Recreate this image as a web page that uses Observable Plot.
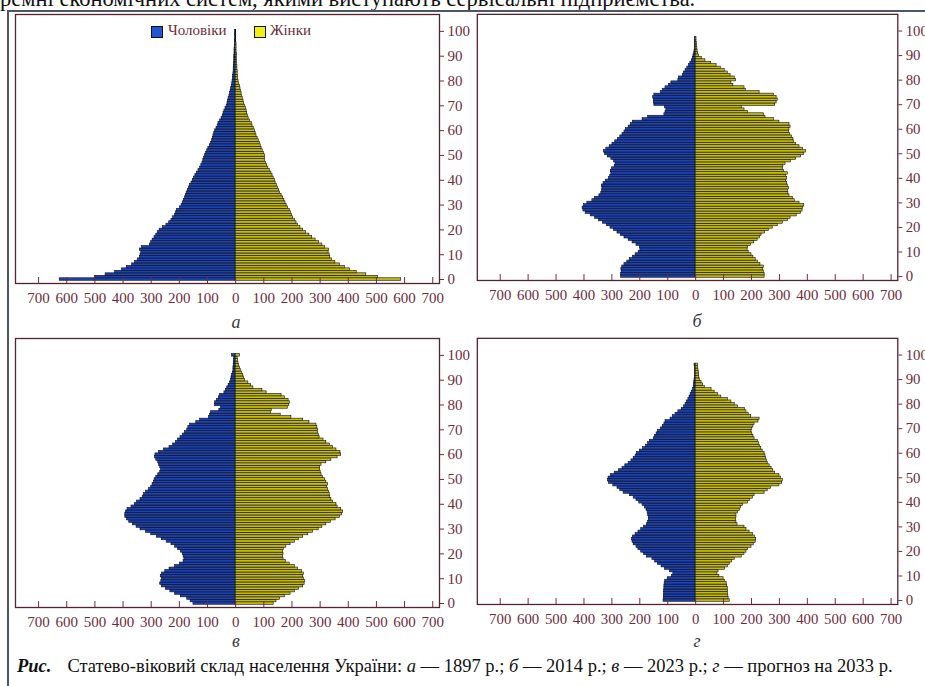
<!DOCTYPE html>
<html>
<head>
<meta charset="utf-8">
<script src="https://cdn.jsdelivr.net/npm/d3@7"></script>
<script src="https://cdn.jsdelivr.net/npm/@observablehq/plot@0.6"></script>
<style>
  html, body { margin: 0; padding: 0; background: #fff; }
  body { width: 925px; height: 686px; overflow: hidden; position: relative; font-family: "Liberation Serif", serif; }
  .abs { position: absolute; }
  .panel svg { overflow: visible; }
  .letter { font-style: italic; font-size: 18px; color: #3a3a3a; transform: translateX(-50%); }
  .sq { width: 10px; height: 10px; border: 1px solid #111; }
  .leg { font-size: 15px; color: #6e2c3c; }
</style>
</head>
<body>
<div class="abs" style="left:0;top:-14px;font-size:22.5px;color:#111;white-space:nowrap;">ремні економічних систем, якими виступають сервісальні підприємства.</div>
<div class="abs" style="left:8px;top:10px;width:917px;height:2px;background:#4b5766;"></div>
<div class="abs" style="left:7px;top:10px;width:2px;height:676px;background:#4b5766;"></div>

<div id="pa" class="abs panel" style="left:0;top:0;"></div>
<div id="pb" class="abs panel" style="left:460px;top:0;"></div>
<div id="pc" class="abs panel" style="left:0;top:324px;"></div>
<div id="pd" class="abs panel" style="left:460px;top:324px;"></div>

<div class="abs sq" style="left:151px;top:26px;background:#1d55d6;"></div>
<div class="abs leg" style="left:168px;top:22px;">Чоловіки</div>
<div class="abs sq" style="left:254px;top:26px;background:#f2ee10;"></div>
<div class="abs leg" style="left:270px;top:22px;">Жінки</div>

<div class="abs letter" style="left:236px;top:312px;">а</div>
<div class="abs letter" style="left:697px;top:311px;">б</div>
<div class="abs letter" style="left:236px;top:631px;">в</div>
<div class="abs letter" style="left:697px;top:631px;">г</div>

<div class="abs" style="left:17px;top:656px;font-size:18.5px;color:#111;white-space:nowrap;">
  <b><i>Рис.</i></b><span style="display:inline-block;width:16px"></span>Статево-віковий склад населення України: <i>а</i> — 1897 р.; <i>б</i> — 2014 р.; <i>в</i> — 2023 р.; <i>г</i> — прогноз на 2033 р.
</div>

<script>
// ---- data (thousands of persons by single year of age 0..100) ----
const ages = d3.range(0, 101);

const male1897 = [625,500,462,428,404,386,368,357,348,340,338,335,340,332,305,300,295,288,282,276,
  270,258,246,236,228,222,216,212,208,198,192,188,184,180,177,174,170,166,162,157,
  152,148,143,138,132,126,122,118,115,112,109,105,101,97,92,87,84,81,79,76,
  73,68,64,61,55,50,46,43,40,36,32,29,27,25,22,20,18,16,14,12,
  11,10,9,8,7,7,6,6,5,5,5,4,4,4,3,3,3,2,2,2,2];
const female1897 = [588,505,464,430,406,388,370,354,342,336,334,330,332,318,308,296,284,272,262,250,
  240,230,222,216,210,204,200,196,192,186,181,177,173,169,163,158,154,150,146,142,
  139,135,131,127,121,116,112,108,104,104,104,100,96,92,89,86,82,78,74,71,
  68,64,60,57,51,46,43,41,39,36,33,30,28,25,23,21,19,17,15,12,
  10,9,8,7,7,6,6,5,5,4,4,4,3,3,3,3,2,2,2,2,2];

const male2014 = [267,267,265,266,263,255,245,236,225,215,204,198,200,212,226,240,255,268,280,292,
  305,318,332,346,360,376,394,402,405,400,388,370,360,345,338,335,334,336,330,322,
  311,306,302,304,300,290,287,292,302,315,325,328,320,308,298,288,278,270,262,255,
  250,240,232,225,190,170,112,108,105,110,148,150,150,152,148,125,118,108,95,87,
  62,60,46,42,36,30,24,19,14,10,8,5,4,3,3,3,3,3,0,0,0];
const female2014 = [247,247,244,242,244,232,223,215,207,200,190,186,188,198,210,222,230,236,248,262,
  276,294,312,330,340,362,378,383,385,389,372,355,348,336,332,330,334,330,328,324,
  328,324,330,316,312,314,322,342,360,378,389,395,385,372,360,352,350,345,338,334,
  336,340,336,300,280,250,245,187,175,165,285,290,294,290,280,229,180,175,135,128,
  145,140,125,115,104,90,75,56,35,22,12,9,7,6,5,4,3,3,0,0,0];

const male2023 = [150,160,172,195,215,232,248,262,268,264,262,266,262,250,235,215,198,185,182,185,
  188,195,205,215,228,245,262,280,300,318,338,352,365,378,386,392,392,390,384,370,
  358,350,338,330,325,318,308,300,295,290,288,282,275,268,265,268,272,275,282,286,
  285,272,255,235,222,212,205,196,188,180,172,168,162,140,126,95,91,88,58,52,
  73,73,66,60,55,40,35,30,25,20,16,15,13,10,8,8,7,6,6,5,13];
const female2023 = [135,145,157,175,195,210,225,240,245,246,242,240,242,235,222,210,192,178,170,168,
  170,168,172,180,195,210,225,240,258,275,295,308,322,338,355,370,378,382,375,362,
  358,346,340,336,334,332,328,325,328,322,318,310,305,302,300,300,305,322,340,362,
  375,372,358,346,335,322,312,298,295,293,293,290,287,262,240,198,160,125,128,185,
  190,193,188,175,163,110,95,63,55,45,33,30,27,22,18,15,12,10,9,7,15];

const male2033 = [115,114,114,113,113,112,112,111,109,100,85,80,92,110,122,135,145,155,175,185,
  195,205,212,222,226,228,225,215,205,195,185,175,170,168,168,170,172,176,182,190,
  202,212,222,235,258,270,280,295,310,314,312,303,290,275,262,252,240,230,222,215,
  210,200,188,178,170,164,150,145,140,135,125,118,112,108,90,82,72,62,50,42,
  36,32,26,22,18,14,9,7,6,5,4,3,3,3,3,3,4,0,0,0,0];
const female2033 = [122,118,117,116,116,115,113,111,105,100,85,78,82,105,115,122,130,140,165,175,
  182,187,200,208,215,217,212,205,193,182,175,150,146,145,146,146,152,158,163,170,
  187,195,205,211,247,258,270,300,310,312,306,300,285,278,272,265,258,255,252,250,
  247,240,235,230,226,223,211,207,203,200,203,207,211,225,229,199,190,182,176,152,
  140,128,116,92,80,68,57,33,27,21,15,13,12,11,10,9,8,0,0,0,0];

const xTicks = [-700,-600,-500,-400,-300,-200,-100,0,100,200,300,400,500,600,700];
const yTicks = [0,10,20,30,40,50,60,70,80,90,100];

const maleFill = "#1c42b0";
const femaleFill = "#c4bb0e";
const barStroke = "#0c0c18";
const ink = "#6e2c3c";
const frameInk = "#55222e";

function pyramid(male, female, ml, mr) {
  const rows = ages.map((a, i) => ({age: a, m: male[i], f: female[i]}));
  return Plot.plot({
    width: 470,
    height: 330,
    marginLeft: ml,
    marginRight: mr,
    marginTop: 14,
    marginBottom: 47,
    style: {fontFamily: "Liberation Serif, serif", fontSize: "15px", background: "transparent", overflow: "visible"},
    x: {domain: [-782, 724]},
    y: {domain: [-1.6, 106.8]},
    marks: [
      Plot.rect(rows, {x1: 0, x2: d => -d.m, y1: d => d.age - 0.5, y2: d => d.age + 0.5,
        fill: maleFill, stroke: barStroke, strokeWidth: 0.6}),
      Plot.rect(rows, {x1: 0, x2: d => d.f, y1: d => d.age - 0.5, y2: d => d.age + 0.5,
        fill: femaleFill, stroke: barStroke, strokeWidth: 0.6}),
      Plot.frame({stroke: frameInk, strokeWidth: 1.3}),
      Plot.axisX({ticks: xTicks, tickFormat: d => Math.abs(d), tickSize: -6, tickPadding: 15,
        color: ink, label: null, fontSize: 15}),
      Plot.axisY({anchor: "right", ticks: yTicks, tickSize: 4, tickPadding: 4,
        color: ink, label: null, fontSize: 15})
    ]
  });
}

document.getElementById("pa").append(pyramid(male1897, female1897, 15, 31));
document.getElementById("pb").append(pyramid(male2014, female2014, 17, 28));
document.getElementById("pc").append(pyramid(male2023, female2023, 15, 31));
document.getElementById("pd").append(pyramid(male2033, female2033, 17, 28));
</script>
</body>
</html>
